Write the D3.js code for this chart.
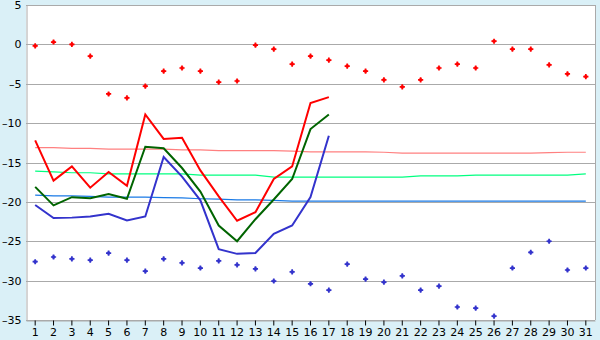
<!DOCTYPE html>
<html>
<head>
<meta charset="utf-8">
<script src="https://cdn.jsdelivr.net/npm/d3@7"></script>
<style>
  body { margin: 0; background: #daf0f7; }
  text { font-family: "DejaVu Sans", Verdana, sans-serif; font-size: 11px; fill: #000; }
</style>
</head>
<body>
<div class="chart"></div>
<script>
// daily temperatures, one month
var days = d3.range(1, 32)

var dayMax = [-0.2, 0.3, 0.0, -1.5, -6.3, -6.8, -5.3, -3.4, -3.0, -3.4, -4.8, -4.65, -0.1, -0.6, -2.5, -1.5,
	-2.0, -2.75, -3.4, -4.5, -5.4, -4.5, -3.0, -2.5, -3.0, 0.4, -0.6, -0.6, -2.6, -3.75, -4.1]
var dayMin = [-27.6, -27.0, -27.25, -27.4, -26.5, -27.4, -28.8, -27.25, -27.75, -28.4, -27.5, -28.0, -28.5,
	-30.05, -28.9, -30.4, -31.2, -27.9, -29.8, -30.2, -29.4, -31.2, -30.7, -33.35, -33.5, -34.5, -28.4,
	-26.4, -25.0, -28.65, -28.4]

// observed curves (days 1-17)
var obsMax = [-12.2, -17.3, -15.5, -18.2, -16.2, -17.95, -8.9, -12.0, -11.85, -16.0, -19.3, -22.4, -21.3,
	-17.1, -15.5, -7.45, -6.7]
var obsMean = [-18.1, -20.45, -19.4, -19.55, -19.0, -19.6, -13.0, -13.2, -15.7, -18.7, -23.0, -25.0, -22.2,
	-19.7, -17.1, -10.75, -8.9]
var obsMin = [-20.4, -22.05, -22.0, -21.85, -21.5, -22.35, -21.85, -14.3, -16.8, -19.8, -26.0, -26.6, -26.5,
	-24.05, -23.0, -19.4, -11.6]

// normals
var normMax = [-13.1, -13.1, -13.2, -13.2, -13.3, -13.3, -13.3, -13.3, -13.4, -13.4, -13.5, -13.5, -13.5,
	-13.5, -13.55, -13.65, -13.65, -13.65, -13.65, -13.7, -13.8, -13.8, -13.8, -13.8, -13.8, -13.8, -13.8,
	-13.8, -13.75, -13.7, -13.7]
var normMean = [-16.1, -16.2, -16.3, -16.3, -16.45, -16.45, -16.45, -16.45, -16.45, -16.6, -16.6, -16.6,
	-16.6, -16.85, -16.85, -16.85, -16.85, -16.85, -16.85, -16.85, -16.85, -16.7, -16.7, -16.7, -16.6,
	-16.6, -16.6, -16.6, -16.6, -16.6, -16.45]
var normMin = [-19.15, -19.25, -19.25, -19.3, -19.4, -19.4, -19.4, -19.45, -19.5, -19.6, -19.65, -19.75,
	-19.75, -19.8, -19.9, -19.9, -19.9, -19.9, -19.9, -19.9, -19.9, -19.9, -19.9, -19.9, -19.9, -19.9,
	-19.9, -19.9, -19.9, -19.9, -19.9]

var yTicks = [5, 0, -5, -10, -15, -20, -25, -30, -35]

var w = 600, h = 340
var plotL = 26, plotR = 595, plotT = 5, plotB = 320

var svg = d3.select('.chart').append('svg')
	.attr('width', w)
	.attr('height', h)
	.style('display', 'block')

var x = d3.scaleBand().domain(days).range([plotL, plotR])
var y = d3.scaleLinear().domain([-35, 5]).range([plotB, plotT])
function cx(d) { return x(d) + x.bandwidth() / 2 }

svg.append('rect')
	.attr('x', plotL).attr('y', plotT)
	.attr('width', plotR - plotL).attr('height', plotB - plotT)
	.attr('fill', '#fff')

// grid
svg.append('g').selectAll('line')
	.data(yTicks)
	.enter().append('line')
	.attr('x1', plotL).attr('x2', plotR)
	.attr('y1', function(d) { return Math.round(y(d)) + 0.5 })
	.attr('y2', function(d) { return Math.round(y(d)) + 0.5 })
	.attr('stroke', '#aaa')

svg.append('line')
	.attr('x1', plotR + 0.5).attr('x2', plotR + 0.5)
	.attr('y1', plotT).attr('y2', plotB)
	.attr('stroke', '#aaa')

// axes
var yAxis = d3.axisLeft(y).tickValues(yTicks).tickSize(0).tickPadding(5)
	.tickFormat(function(d) { return d < 0 ? '\u2013' + Math.abs(d) : d })
var gy = svg.append('g').attr('transform', 'translate(' + (plotL + 0.5) + ',0)').call(yAxis)
gy.select('.domain').attr('stroke', '#aaa')

var xAxis = d3.axisBottom(x).tickSize(5).tickPadding(3).tickSizeOuter(0)
var gx = svg.append('g').attr('transform', 'translate(0,' + (plotB + 0.5) + ')').call(xAxis)
gx.select('.domain').attr('stroke', '#aaa')
gx.selectAll('line').attr('stroke', '#000')

svg.selectAll('.tick text').attr('font-family', null).attr('font-size', null)

var line = d3.line()
	.x(function(d, i) { return cx(days[i]) })
	.y(function(d) { return y(d) })

function drawLine(data, color, width) {
	svg.append('path')
		.datum(data)
		.attr('d', line)
		.attr('fill', 'none')
		.attr('stroke', color)
		.attr('stroke-width', width)
}

drawLine(normMax, '#ff8080', 1.2)
drawLine(normMean, '#00ff80', 1.2)
drawLine(normMin, '#1a7ae6', 1.2)
drawLine(obsMax, '#ff0000', 2)
drawLine(obsMean, '#006400', 2)
drawLine(obsMin, '#3333cc', 2)

var cross = d3.symbol().type(d3.symbolCross).size(15)
var dot = d3.symbol().type(d3.symbolSquare).size(8)
function drawDots(data, color) {
	var g = svg.append('g').attr('fill', color)
		.selectAll('g')
		.data(data)
		.enter().append('g')
		.attr('transform', function(d, i) { return 'translate(' + [cx(days[i]), y(d)] + ')' })
	g.append('path').attr('d', cross)
	g.append('path').attr('d', dot)
}
drawDots(dayMax, '#ff0000')
drawDots(dayMin, '#3333cc')
</script>
</body>
</html>
